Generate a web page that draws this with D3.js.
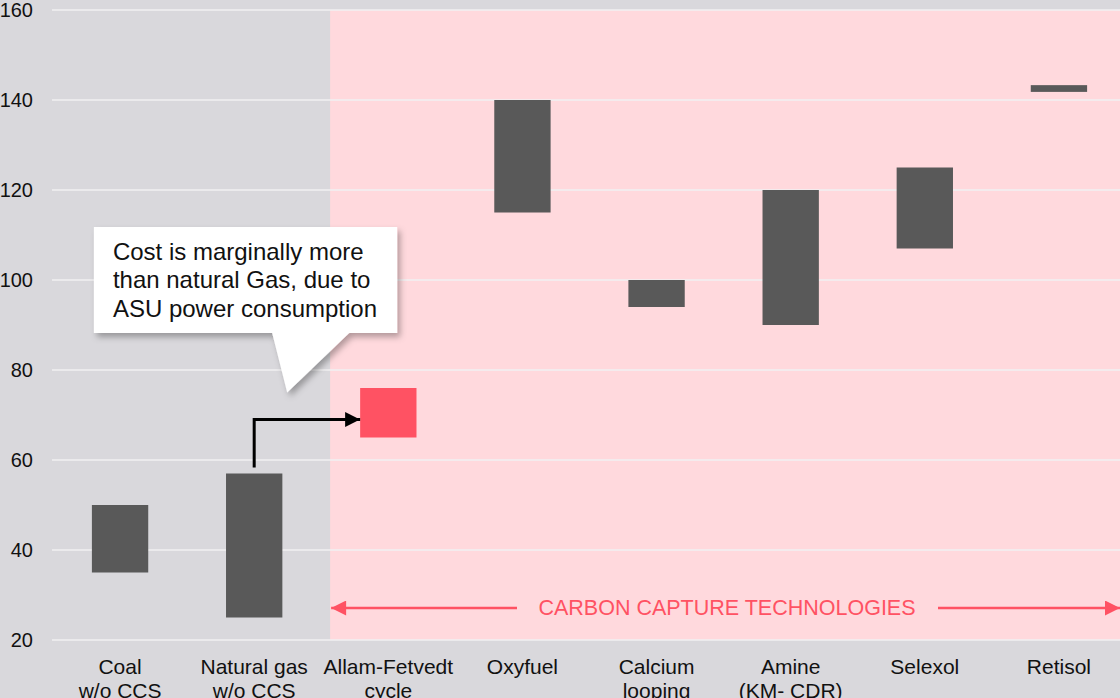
<!DOCTYPE html>
<html>
<head>
<meta charset="utf-8">
<script src="https://cdn.jsdelivr.net/npm/d3@7/dist/d3.min.js"></script>
<style>
html,body{margin:0;padding:0;background:#d9d8dc;}
svg{display:block;font-family:"Liberation Sans",Arial,Helvetica,sans-serif;}
</style>
</head>
<body>
<svg id="chart" width="1120" height="698"></svg>
<script>
// ---- data ----
const categories = ["Coal\nw/o CCS","Natural gas\nw/o CCS","Allam-Fetvedt\ncycle","Oxyfuel","Calcium\nlooping","Amine\n(KM- CDR)","Selexol","Retisol"];
const lowValues  = [35, 25, 65, 115, 94, 90, 107, 141.8];
const highValues = [50, 57, 76, 140, 100, 120, 125, 143.3];
const highlight  = [false, false, true, false, false, false, false, false];
const yTicks = [20, 40, 60, 80, 100, 120, 140, 160];
const calloutLines = ["Cost is marginally more", "than natural Gas, due to", "ASU power consumption"];
const sectionLabel = "CARBON CAPTURE TECHNOLOGIES";
const arrowLevel = 69;

const W = 1120, H = 698;
const svg = d3.select("#chart");

const y = d3.scaleLinear().domain([20, 160]).range([640, 10]);
const x = d3.scaleBand().domain(categories).range([53, 1126]).paddingInner(0.58).paddingOuter(0.29);

// background
svg.append("rect").attr("width", W).attr("height", H).attr("fill", "#d9d8dc");
const pinkX = x(categories[2]) - 30;
svg.append("rect").attr("x", pinkX).attr("y", y(160)).attr("width", W - pinkX).attr("height", y(20) - y(160)).attr("fill", "#ffd9dd");

// grid
svg.append("g").selectAll("line").data(yTicks).join("line")
  .attr("x1", 52).attr("x2", W).attr("y1", d => y(d)).attr("y2", d => y(d))
  .attr("stroke", "#f1f0f2").attr("stroke-width", 1.6);

// y axis labels
const yAxis = d3.axisLeft(y).tickValues(yTicks).tickSize(0).tickPadding(0);
const gy = svg.append("g").attr("transform", "translate(33,0)").call(yAxis);
gy.select(".domain").remove();
gy.selectAll("text").attr("font-size", 20).attr("fill", "#111").attr("font-family", "Liberation Sans, Arial, sans-serif");

// bars
svg.append("g").selectAll("rect").data(categories).join("rect")
  .attr("x", d => x(d))
  .attr("width", x.bandwidth())
  .attr("y", (d, i) => y(highValues[i]))
  .attr("height", (d, i) => y(lowValues[i]) - y(highValues[i]))
  .attr("fill", (d, i) => highlight[i] ? "#ff5263" : "#595959");

// x labels
const xl = svg.append("g").selectAll("text").data(categories).join("text")
  .attr("x", d => x(d) + x.bandwidth() / 2)
  .attr("y", 674)
  .attr("text-anchor", "middle")
  .attr("font-size", 21)
  .attr("fill", "#111");
xl.each(function(d) {
  const t = d3.select(this);
  d.split("\n").forEach((s, k) => {
    t.append("tspan").attr("x", x(d) + x.bandwidth() / 2).attr("dy", k === 0 ? 0 : 24).text(s);
  });
});

// defs
const defs = svg.append("defs");
defs.append("marker").attr("id", "blackHead").attr("viewBox", "0 0 10 10")
  .attr("refX", 10).attr("refY", 5).attr("markerWidth", 5).attr("markerHeight", 5)
  .attr("markerUnits", "strokeWidth").attr("orient", "auto")
  .append("path").attr("d", "M0,0 L10,5 L0,10 z").attr("fill", "#000");
defs.append("marker").attr("id", "redHead").attr("viewBox", "0 0 10 10")
  .attr("refX", 10).attr("refY", 5).attr("markerWidth", 6.5).attr("markerHeight", 6)
  .attr("markerUnits", "strokeWidth").attr("orient", "auto-start-reverse")
  .append("path").attr("d", "M0,0 L10,5 L0,10 z").attr("fill", "#ff5263");
const f = defs.append("filter").attr("id", "shadow").attr("x", "-10%").attr("y", "-10%").attr("width", "130%").attr("height", "140%");
f.append("feDropShadow").attr("dx", 3).attr("dy", 4).attr("stdDeviation", 3).attr("flood-color", "#000").attr("flood-opacity", 0.3);

// section arrows
const secY = 608;
svg.append("line").attr("x1", 517).attr("x2", pinkX + 1).attr("y1", secY).attr("y2", secY)
  .attr("stroke", "#ff5263").attr("stroke-width", 2.5).attr("marker-end", "url(#redHead)");
svg.append("line").attr("x1", 938).attr("x2", W).attr("y1", secY).attr("y2", secY)
  .attr("stroke", "#ff5263").attr("stroke-width", 2.5).attr("marker-end", "url(#redHead)");
svg.append("text").attr("x", 727).attr("y", secY + 7).attr("text-anchor", "middle")
  .attr("font-size", 21.5).attr("fill", "#ff5263").text(sectionLabel);

// connector arrow
const ngX = x(categories[1]) + x.bandwidth() / 2;
svg.append("path")
  .attr("d", `M${ngX},${y(highValues[1]) - 6} V${y(arrowLevel)} H${x(categories[2])}`)
  .attr("fill", "none").attr("stroke", "#000").attr("stroke-width", 3)
  .attr("marker-end", "url(#blackHead)");

// callout
const bx0 = x(categories[0]) + 2, bx1 = x(categories[2]) + 37;
const by0 = y(111.8), by1 = y(88.2);
const tipX = ngX + 33, tipY = y(75);
svg.append("path")
  .attr("d", `M${bx0},${by0} H${bx1} V${by1} H${ngX + 95} L${tipX},${tipY} L${ngX + 18},${by1} H${bx0} Z`)
  .attr("fill", "#fff").attr("filter", "url(#shadow)");
svg.append("g").selectAll("text").data(calloutLines).join("text")
  .attr("x", bx0 + 19).attr("y", (d, i) => 260 + i * 28.3)
  .attr("font-size", 24).attr("fill", "#111").text(d => d);
</script>
</body>
</html>
